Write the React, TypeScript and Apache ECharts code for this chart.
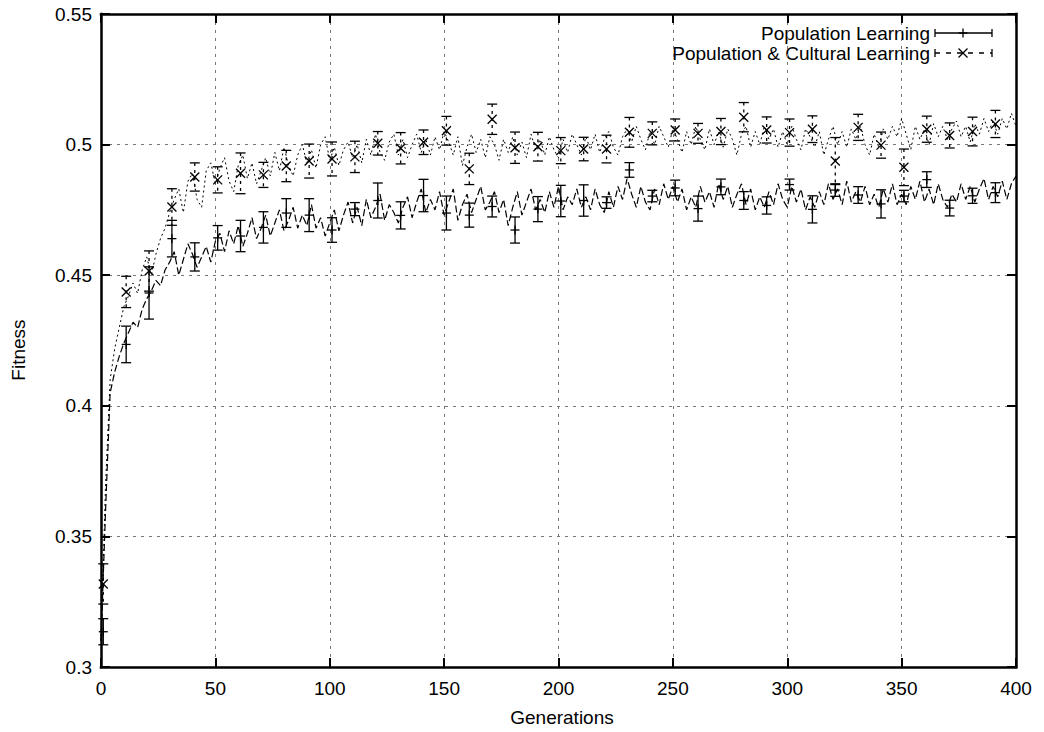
import React, { useEffect, useRef } from "react";
import * as echarts from "echarts";

const FONT = '"Liberation Sans", Arial, Helvetica, sans-serif';
const FONT_SIZE = 19;

// Per-generation mean lines, sampled every LINE_STEP generations (0..400)
const LINE_STEP = 2;
const PL_LINE = [
  0.310, 0.360, 0.405, 0.413, 0.419, 0.424,
  0.428, 0.432, 0.430, 0.437, 0.441, 0.444, 0.448, 0.446, 0.452, 0.455,
  0.459, 0.450, 0.456, 0.462, 0.458, 0.453, 0.457, 0.461, 0.455, 0.463,
  0.466, 0.459, 0.467, 0.462, 0.469, 0.461, 0.466, 0.472, 0.464, 0.468,
  0.473, 0.465, 0.470, 0.475, 0.467, 0.471, 0.476, 0.468, 0.473, 0.469,
  0.477, 0.468, 0.472, 0.465, 0.470, 0.475, 0.467, 0.473, 0.478, 0.470,
  0.476, 0.469, 0.479, 0.472, 0.476, 0.481, 0.471, 0.477, 0.474, 0.470,
  0.476, 0.480, 0.472, 0.478, 0.483, 0.474, 0.479, 0.475, 0.482, 0.473,
  0.478, 0.483, 0.471, 0.477, 0.481, 0.474, 0.479, 0.484, 0.475, 0.478,
  0.482, 0.474, 0.479, 0.469, 0.476, 0.482, 0.473, 0.478, 0.483, 0.475,
  0.479, 0.474, 0.482, 0.476, 0.484, 0.475, 0.480, 0.477, 0.483, 0.476,
  0.480, 0.475, 0.483, 0.477, 0.474, 0.482, 0.476, 0.484, 0.479, 0.487,
  0.481, 0.476, 0.484, 0.478, 0.475, 0.483, 0.477, 0.485, 0.479, 0.484,
  0.478, 0.483, 0.475, 0.480, 0.476, 0.484, 0.478, 0.482, 0.476, 0.485,
  0.479, 0.484, 0.476, 0.481, 0.485, 0.477, 0.483, 0.475, 0.480, 0.476,
  0.482, 0.477, 0.485, 0.479, 0.476, 0.484, 0.478, 0.483, 0.475, 0.480,
  0.476, 0.482, 0.477, 0.485, 0.479, 0.483, 0.477, 0.486, 0.478, 0.482,
  0.478, 0.484, 0.477, 0.481, 0.476, 0.483, 0.478, 0.485, 0.477, 0.481,
  0.477, 0.484, 0.479, 0.486, 0.478, 0.483, 0.477, 0.485, 0.479, 0.476,
  0.481, 0.478, 0.485, 0.479, 0.484, 0.478, 0.483, 0.487, 0.479, 0.484,
  0.480, 0.486, 0.479, 0.485, 0.488,
];
const PCL_LINE = [
  0.310, 0.370, 0.410, 0.422, 0.430, 0.438,
  0.442, 0.447, 0.443, 0.452, 0.457, 0.450, 0.458, 0.464, 0.468, 0.474,
  0.479, 0.483, 0.474, 0.486, 0.489, 0.479, 0.476, 0.490, 0.493, 0.485,
  0.491, 0.495, 0.486, 0.482, 0.492, 0.496, 0.487, 0.493, 0.485, 0.490,
  0.495, 0.488, 0.497, 0.490, 0.499, 0.492, 0.488, 0.496, 0.500, 0.493,
  0.498, 0.491, 0.500, 0.503, 0.494, 0.499, 0.492, 0.498, 0.501, 0.495,
  0.500, 0.493, 0.502, 0.496, 0.504, 0.497, 0.494, 0.501, 0.504, 0.496,
  0.502, 0.495, 0.500, 0.504, 0.497, 0.502, 0.496, 0.503, 0.498, 0.505,
  0.501, 0.496, 0.503, 0.492, 0.499, 0.504, 0.497, 0.502, 0.495, 0.503,
  0.500, 0.494, 0.502, 0.497, 0.503, 0.496, 0.501, 0.495, 0.504, 0.498,
  0.502, 0.496, 0.503, 0.498, 0.495, 0.502, 0.497, 0.504, 0.500, 0.496,
  0.503, 0.498, 0.504, 0.497, 0.502, 0.505, 0.499, 0.496, 0.503, 0.506,
  0.501, 0.507, 0.502, 0.498, 0.505, 0.500, 0.507, 0.503, 0.499, 0.506,
  0.502, 0.497, 0.505, 0.500, 0.507, 0.502, 0.498, 0.506, 0.500, 0.505,
  0.499, 0.506, 0.502, 0.496, 0.504, 0.507, 0.499, 0.505, 0.500, 0.507,
  0.502, 0.506, 0.499, 0.505, 0.500, 0.507, 0.502, 0.498, 0.506, 0.503,
  0.499, 0.505, 0.496, 0.502, 0.507, 0.500, 0.505, 0.499, 0.506, 0.502,
  0.507, 0.500, 0.496, 0.504, 0.499, 0.506, 0.502, 0.507, 0.503, 0.510,
  0.504, 0.498, 0.507, 0.502, 0.506, 0.500, 0.508, 0.503, 0.507, 0.502,
  0.506, 0.509, 0.503, 0.507, 0.501, 0.508, 0.504, 0.510, 0.505, 0.509,
  0.504, 0.510, 0.506, 0.512, 0.507,
];

// Error-bar samples (every 10 generations)
const BAR_GENS = [
  1, 11, 21, 31, 41, 51, 61, 71, 81, 91,
  101, 111, 121, 131, 141, 151, 161, 171, 181, 191,
  201, 211, 221, 231, 241, 251, 261, 271, 281, 291,
  301, 311, 321, 331, 341, 351, 361, 371, 381, 391,
];
const PL_MEAN = [
  0.3135, 0.4235, 0.4432, 0.464, 0.457, 0.4643, 0.465, 0.4683, 0.4738, 0.473,
  0.4673, 0.4753, 0.4786, 0.4729, 0.4805, 0.4738, 0.473, 0.4763, 0.4673, 0.4753,
  0.4784, 0.4786, 0.4778, 0.4903, 0.4803, 0.4834, 0.4755, 0.4838, 0.4786, 0.4767,
  0.4847, 0.4752, 0.4826, 0.4807, 0.4773, 0.4803, 0.4866, 0.4757, 0.4804, 0.4816,
];
const PL_ERR = [
  0.005, 0.007, 0.010, 0.007, 0.0054, 0.0047, 0.006, 0.006, 0.0055, 0.0063,
  0.0047, 0.0025, 0.0067, 0.0052, 0.0062, 0.0065, 0.0046, 0.004, 0.005, 0.0048,
  0.006, 0.006, 0.0022, 0.0028, 0.0022, 0.003, 0.0048, 0.003, 0.0034, 0.0033,
  0.0021, 0.0052, 0.0024, 0.0032, 0.0054, 0.0022, 0.003, 0.003, 0.0029, 0.0038,
];
const PCL_MEAN = [
  0.3318, 0.4436, 0.4516, 0.4761, 0.4876, 0.4865, 0.489, 0.4884, 0.4918, 0.4937,
  0.4945, 0.4953, 0.5005, 0.4986, 0.5009, 0.5053, 0.4907, 0.5097, 0.4988, 0.4992,
  0.4977, 0.4983, 0.4983, 0.5047, 0.5043, 0.5056, 0.5043, 0.505, 0.5105, 0.5056,
  0.5046, 0.5059, 0.4937, 0.5066, 0.4998, 0.4913, 0.5059, 0.5035, 0.505, 0.5079,
];
const PCL_ERR = [
  0.0077, 0.006, 0.0077, 0.007, 0.0054, 0.005, 0.0078, 0.0048, 0.006, 0.0065,
  0.0065, 0.006, 0.0045, 0.006, 0.0047, 0.0055, 0.006, 0.0058, 0.006, 0.0055,
  0.005, 0.0045, 0.0053, 0.0057, 0.0044, 0.0042, 0.0038, 0.005, 0.0056, 0.005,
  0.0052, 0.0051, 0.009, 0.005, 0.005, 0.007, 0.005, 0.0048, 0.0055, 0.0052,
];

const SERIES_NAMES = ["Population Learning", "Population & Cultural Learning"];
const X_AXIS_NAME = "Generations";
const Y_AXIS_NAME = "Fitness";

function makeErrorRender(marker: "plus" | "cross", dashed: boolean) {
  return (params: any, api: any) => {
    const g = api.value(0);
    const m = api.value(1);
    const e = api.value(2);
    const c = api.coord([g, m]);
    const t = api.coord([g, m + e]);
    const b = api.coord([g, m - e]);
    const st = { stroke: "#000", lineWidth: 1.3 };
    const cap = 5;
    const ms = 4.5;
    const children: any[] = [
      {
        type: "line",
        shape: { x1: c[0], y1: t[1], x2: c[0], y2: b[1] },
        style: { ...st, lineDash: dashed ? [3, 4] : null },
      },
      { type: "line", shape: { x1: c[0] - cap, y1: t[1], x2: c[0] + cap, y2: t[1] }, style: st },
      { type: "line", shape: { x1: c[0] - cap, y1: b[1], x2: c[0] + cap, y2: b[1] }, style: st },
    ];
    if (marker === "plus") {
      children.push(
        { type: "line", shape: { x1: c[0] - ms, y1: c[1], x2: c[0] + ms, y2: c[1] }, style: st },
        { type: "line", shape: { x1: c[0], y1: c[1] - ms, x2: c[0], y2: c[1] + ms }, style: st }
      );
    } else {
      children.push(
        { type: "line", shape: { x1: c[0] - ms, y1: c[1] - ms, x2: c[0] + ms, y2: c[1] + ms }, style: st },
        { type: "line", shape: { x1: c[0] - ms, y1: c[1] + ms, x2: c[0] + ms, y2: c[1] - ms }, style: st }
      );
    }
    return { type: "group", children };
  };
}

function legendRow(y: number, label: string, marker: "plus" | "cross", dashed: boolean) {
  const x0 = 935;
  const x1 = 992;
  const xm = 963;
  const st = { stroke: "#000", lineWidth: 1.3 };
  const ms = 4.5;
  const els: any[] = [
    {
      type: "text",
      x: 930,
      y,
      style: {
        text: label,
        fontSize: FONT_SIZE,
        fontFamily: FONT,
        fill: "#000",
        textAlign: "right",
        align: "right",
        textVerticalAlign: "middle",
        verticalAlign: "middle",
      },
    },
    { type: "line", shape: { x1: x0, y1: y, x2: x1, y2: y }, style: { ...st, lineDash: dashed ? [5, 6] : null } },
    { type: "line", shape: { x1: x0, y1: y - 4, x2: x0, y2: y + 4 }, style: st },
    { type: "line", shape: { x1: x1, y1: y - 4, x2: x1, y2: y + 4 }, style: st },
  ];
  if (marker === "plus") {
    els.push(
      { type: "line", shape: { x1: xm - ms, y1: y, x2: xm + ms, y2: y }, style: st },
      { type: "line", shape: { x1: xm, y1: y - ms, x2: xm, y2: y + ms }, style: st }
    );
  } else {
    els.push(
      { type: "line", shape: { x1: xm - ms, y1: y - ms, x2: xm + ms, y2: y + ms }, style: st },
      { type: "line", shape: { x1: xm - ms, y1: y + ms, x2: xm + ms, y2: y - ms }, style: st }
    );
  }
  return els;
}

export default function App() {
  const ref = useRef<HTMLDivElement>(null);

  useEffect(() => {
    if (!ref.current) return;
    const chart = echarts.init(ref.current, null, { renderer: "svg" });

    const plLine = PL_LINE.map((v, i) => [i * LINE_STEP, v]);
    const pclLine = PCL_LINE.map((v, i) => [i * LINE_STEP, v]);
    const plBars = BAR_GENS.map((g, i) => [g, PL_MEAN[i], PL_ERR[i]]);
    const pclBars = BAR_GENS.map((g, i) => [g, PCL_MEAN[i], PCL_ERR[i]]);

    const gridLine = {
      show: true,
      showMinLine: false,
      showMaxLine: false,
      lineStyle: { color: "#777", width: 1, type: [3, 5] as any },
    };
    const tick = { show: true, inside: true, length: 9, lineStyle: { color: "#000", width: 2 } };
    const frame = { show: true, onZero: false, lineStyle: { color: "#000", width: 2.5, cap: "square" } };
    const label = { color: "#000", fontSize: FONT_SIZE, fontFamily: FONT };

    const option: any = {
      animation: false,
      backgroundColor: "#fff",
      grid: {
        left: 101,
        right: 28,
        top: 14,
        bottom: 65,
        show: false,
      },
      xAxis: [
        {
          type: "value",
          min: 0,
          max: 400,
          interval: 50,
          axisLine: frame,
          axisTick: tick,
          axisLabel: { ...label, margin: 12 },
          splitLine: gridLine,
        },
        {
          type: "value",
          position: "top",
          min: 0,
          max: 400,
          interval: 50,
          axisLine: frame,
          axisTick: tick,
          axisLabel: { show: false },
          splitLine: { show: false },
        },
      ],
      yAxis: [
        {
          type: "value",
          min: 0.3,
          max: 0.55,
          interval: 0.05,
          axisLine: frame,
          axisTick: tick,
          axisLabel: { ...label, margin: 9 },
          splitLine: gridLine,
        },
        {
          type: "value",
          position: "right",
          min: 0.3,
          max: 0.55,
          interval: 0.05,
          axisLine: frame,
          axisTick: tick,
          axisLabel: { show: false },
          splitLine: { show: false },
        },
      ],
      series: [
        {
          type: "line",
          name: SERIES_NAMES[0] + " mean",
          data: plLine,
          showSymbol: false,
          lineStyle: { color: "#000", width: 1.2, type: [7, 3] },
          z: 3,
        },
        {
          type: "line",
          name: SERIES_NAMES[1] + " mean",
          data: pclLine,
          showSymbol: false,
          lineStyle: { color: "#000", width: 1, type: [2, 3] },
          z: 3,
        },
        {
          type: "custom",
          name: SERIES_NAMES[0],
          data: plBars,
          encode: { x: 0, y: 1 },
          renderItem: makeErrorRender("plus", false),
          z: 4,
        },
        {
          type: "custom",
          name: SERIES_NAMES[1],
          data: pclBars,
          encode: { x: 0, y: 1 },
          renderItem: makeErrorRender("cross", true),
          z: 4,
        },
      ],
      graphic: [
        {
          type: "text",
          x: 18,
          y: 350,
          rotation: Math.PI / 2,
          style: {
            text: Y_AXIS_NAME,
            fontSize: FONT_SIZE,
            fontFamily: FONT,
            fill: "#000",
            textAlign: "center",
            align: "center",
            textVerticalAlign: "middle",
            verticalAlign: "middle",
          },
        },
        {
          type: "text",
          x: 562,
          y: 717,
          style: {
            text: X_AXIS_NAME,
            fontSize: FONT_SIZE,
            fontFamily: FONT,
            fill: "#000",
            textAlign: "center",
            align: "center",
            textVerticalAlign: "middle",
            verticalAlign: "middle",
          },
        },
        ...legendRow(33, SERIES_NAMES[0], "plus", false),
        ...legendRow(53, SERIES_NAMES[1], "cross", true),
      ],
    };

    chart.setOption(option);
    return () => chart.dispose();
  }, []);

  return (
    <div
      ref={ref}
      style={{ position: "fixed", left: 0, top: 0, width: 1044, height: 732, background: "#fff" }}
    />
  );
}
